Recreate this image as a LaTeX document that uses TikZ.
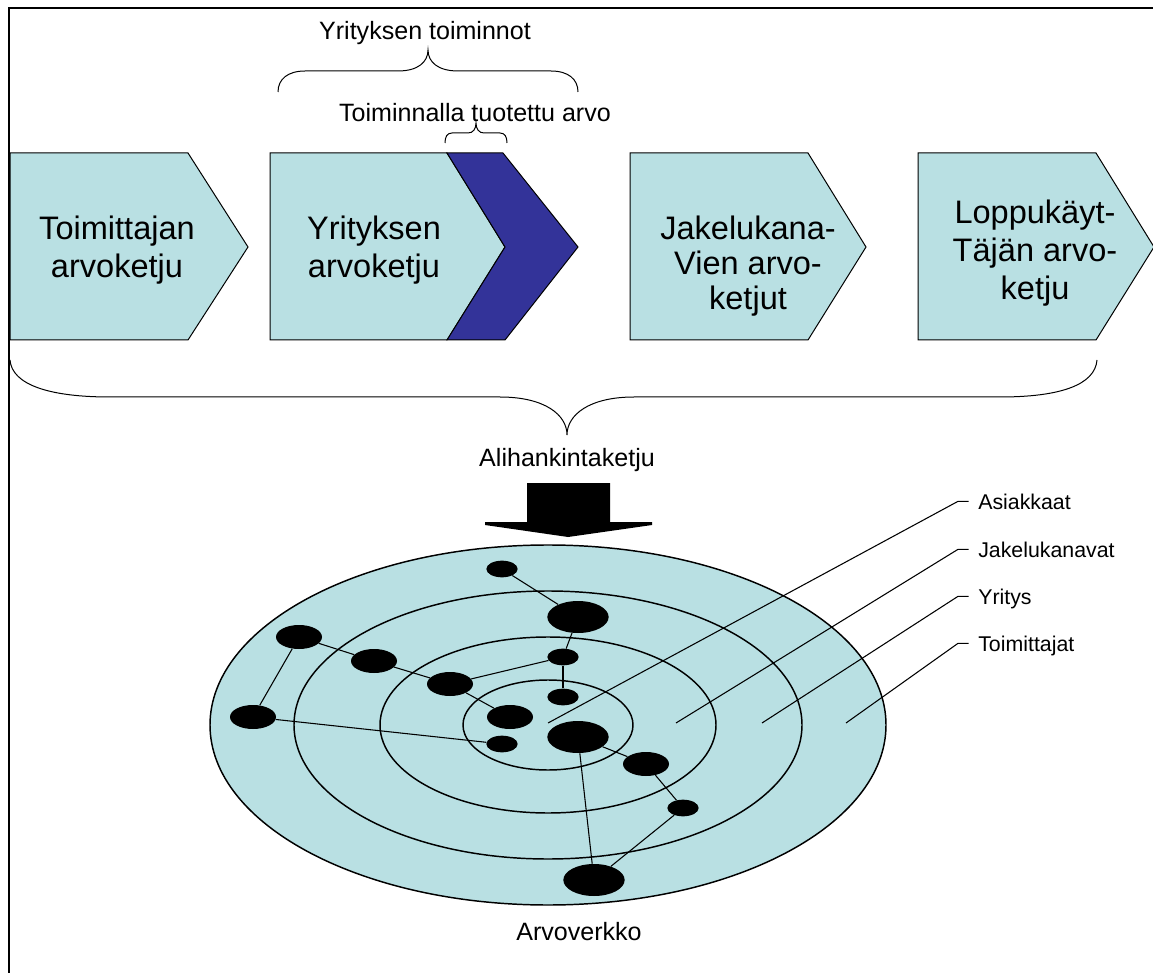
\documentclass[tikz,border=0pt]{standalone}
\usepackage{fontspec}
\setmainfont{Liberation Sans}
\usetikzlibrary{shapes.geometric}
\definecolor{chaincyan}{RGB}{185,224,227}
\definecolor{valueblue}{RGB}{51,51,153}

\begin{document}
\begin{tikzpicture}[x=0.75pt,y=-0.75pt,
  chainbox/.style={fill=chaincyan,draw=black,line width=0.75pt,line join=miter},
  valuebox/.style={fill=valueblue,draw=black,line width=0.75pt,line join=miter},
  boxtext/.style={align=center,font=\fontsize{24.4pt}{29pt}\selectfont,inner sep=0pt},
  captiontext/.style={anchor=base,font=\fontsize{18.8pt}{22pt}\selectfont,inner sep=0pt},
  bracepath/.style={draw=black,line width=0.75pt},
  ringline/.style={draw=black,line width=1.1pt},
  netdot/.style={ellipse,fill=black,inner sep=0pt},
  dotS/.style={netdot,minimum width=23.5pt,minimum height=12.5pt},
  dotM/.style={netdot,minimum width=34.5pt,minimum height=18pt},
  dotL/.style={netdot,minimum width=46pt,minimum height=24pt},
  netlink/.style={draw=black,line width=0.8pt},
  leaderline/.style={draw=black,line width=0.8pt},
  ringlabel/.style={anchor=base west,font=\fontsize{16pt}{19pt}\selectfont,
    inner sep=0pt,text height=11.5pt,text depth=0pt},
]
\useasboundingbox (0,0) rectangle (1153,973);

% page frame (top and left edges)
\draw[line width=1.9pt] (1153,8) -- (9,8) -- (9,973);

% value chain arrows
\path[chainbox] (10,153) -- (188,153) -- (248,247) -- (188,340) -- (10,340) -- cycle;
\path[chainbox] (270,153) -- (447,153) -- (505,247) -- (447,340) -- (270,340) -- cycle;
\path[valuebox] (447,153) -- (503,153) -- (578,247) -- (505,340) -- (447,340) -- (505,247) -- cycle;
\path[chainbox] (630,153) -- (808,153) -- (866,247) -- (808,340) -- (630,340) -- cycle;
\path[chainbox] (918,153) -- (1096,153) -- (1154,247) -- (1096,340) -- (918,340) -- cycle;

\node[boxtext] (b1) at (117,250) {Toimittajan\\arvoketju};
\node[boxtext] (b2) at (374,250) {Yrityksen\\arvoketju};
\node[boxtext,font=\fontsize{24.4pt}{26pt}\selectfont] (b3) at (748,266) {Jakelukana-\\Vien arvo-\\ketjut};
\node[boxtext,font=\fontsize{24.4pt}{28.5pt}\selectfont] (b4) at (1035,253) {Loppukäyt-\\Täjän arvo-\\ketju};

% braces and their captions
\path[bracepath] (278,92) .. controls (278,79) and (288,71) .. (305,71) -- (398,71)
  .. controls (418,71) and (428,62) .. (428,50)
  .. controls (428,62) and (438,71) .. (458,71) -- (551,71)
  .. controls (568,71) and (578,79) .. (578,92);
\node[captiontext] (tfunc) at (425,40) {Yrityksen toiminnot};

\path[bracepath] (445,143) .. controls (445,137) and (447,133) .. (452,133) -- (468,133)
  .. controls (473,133) and (476,129) .. (476,123)
  .. controls (476,129) and (479,133) .. (484,133) -- (500,133)
  .. controls (505,133) and (507,137) .. (507,143);
\node[captiontext] (tvalue) at (475,122) {Toiminnalla tuotettu arvo};

\path[bracepath] (10,360) .. controls (12,385) and (50,397) .. (110,397) -- (500,397)
  .. controls (545,397) and (567,415) .. (567,435)
  .. controls (567,415) and (589,397) .. (634,397) -- (1000,397)
  .. controls (1060,397) and (1095,385) .. (1097,360);
\node[captiontext] (tsub) at (567,466) {Alihankintaketju};

% block arrow down
\fill (527,483) -- (610,483) -- (610,522) -- (652,522) -- (652,525) -- (568,537)
  -- (485,525) -- (485,522) -- (527,522) -- cycle;

% value network rings
\coordinate (hub) at (548,725);
\draw[ringline,fill=chaincyan] (hub) ellipse [x radius=253.5pt, y radius=135pt];
\draw[ringline] (hub) ellipse [x radius=190.5pt, y radius=100.5pt];
\draw[ringline] (hub) ellipse [x radius=126pt, y radius=66pt];
\draw[ringline] (hub) ellipse [x radius=63.75pt, y radius=33.75pt];

% ring labels with leader lines
\coordinate (pA) at (548,723);
\coordinate (pJ) at (676,723);
\coordinate (pY) at (762,723);
\coordinate (pT) at (846,723);
\node[ringlabel] (lA) at (978,509) {Asiakkaat};
\node[ringlabel] (lJ) at (978,557) {Jakelukanavat};
\node[ringlabel] (lY) at (978,604) {Yritys};
\node[ringlabel] (lT) at (978,651) {Toimittajat};
\foreach \p/\l in {pA/lA,pJ/lJ,pY/lY,pT/lT}
  \draw[leaderline] (\p) -- ([xshift=-15pt]\l.west) -- ([xshift=-7pt]\l.west);

% network actors
\node[dotS] (d1) at (502,569) {};
\node[dotL] (d2) at (578,617) {};
\node[dotM] (d3) at (299,637) {};
\node[dotM] (d4) at (374,661) {};
\node[dotS] (d5) at (563,657) {};
\node[dotM] (d6) at (450,684) {};
\node[dotS] (d7) at (563,697) {};
\node[dotM] (d8) at (253,717) {};
\node[dotM] (d9) at (510,717) {};
\node[dotS] (d10) at (502,744) {};
\node[dotL] (d11) at (578,737) {};
\node[dotM] (d12) at (646,764) {};
\node[dotS] (d13) at (683,808) {};
\node[dotL] (d14) at (594,880) {};

\foreach \a/\b in {d1/d2,d2/d5,d5/d7,d5/d6,d3/d4,d4/d6,d6/d9,d3/d8,d8/d10,
                   d11/d12,d11/d14,d12/d13,d13/d14}
  \draw[netlink] (\a) -- (\b);

\node[captiontext] (tnet) at (579,940) {Arvoverkko};
\end{tikzpicture}
\end{document}
